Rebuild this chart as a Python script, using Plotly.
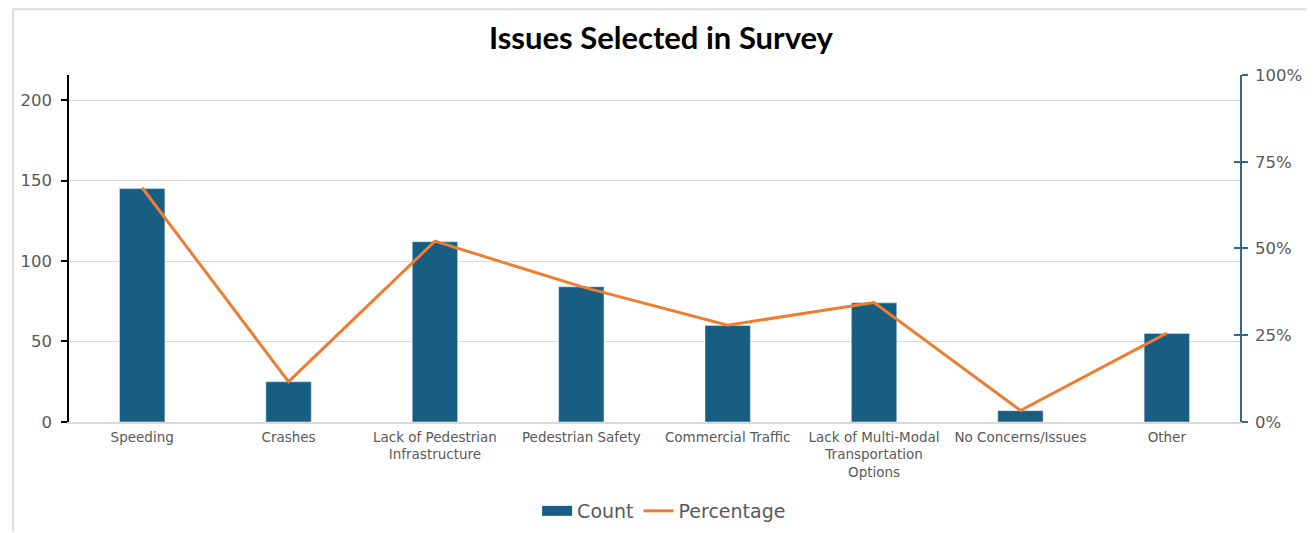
import plotly.graph_objects as go

categories = [
    "Speeding",
    "Crashes",
    "Lack of Pedestrian<br>Infrastructure",
    "Pedestrian Safety",
    "Commercial Traffic",
    "Lack of Multi-Modal<br>Transportation<br>Options",
    "No Concerns/Issues",
    "Other",
]
counts = [145, 25, 112, 84, 60, 74, 7, 55]
percentages = [0.675, 0.116, 0.521, 0.39, 0.279, 0.344, 0.033, 0.256]

left_ticks = [0, 50, 100, 150, 200]
right_ticks = [0, 0.25, 0.5, 0.75, 1.0]
right_labels = ["0%", "25%", "50%", "75%", "100%"]

FONT = "DejaVu Sans"
TITLE_FONT = "Lato"
BAR = "#175E82"
LINE = "#ED7D31"
GRAY = "#595959"
AX2 = "#2E6B8A"

W, H = 1307, 525
L, R, T, B = 57, 75, 67, 110
PW, PH = W - L - R, H - T - B

fig = go.Figure()
fig.add_trace(go.Bar(
    x=categories, y=counts, name="Count", marker_color=BAR, width=0.31,
    yaxis="y", showlegend=False,
))
# legend entry for the bars drawn as a wide rectangle swatch
fig.add_trace(go.Scatter(
    x=[None], y=[None], name="Count", mode="lines",
    line=dict(color=BAR, width=10), yaxis="y",
))
fig.add_trace(go.Scatter(
    x=categories, y=percentages, name="Percentage", mode="lines",
    line=dict(color=LINE, width=3), yaxis="y2",
))
fig.add_trace(go.Scatter(x=[categories[0]], y=[None], yaxis="y3", showlegend=False,
                         hoverinfo="skip"))

fig.update_layout(
    width=W, height=H,
    paper_bgcolor="white", plot_bgcolor="white",
    margin=dict(l=L, r=R, t=T, b=B),
    font=dict(family=FONT, color=GRAY),
    title=dict(text="<b>Issues Selected in Survey</b>", x=0.4996, xanchor="center",
               y=1 - 30 / H, yanchor="middle",
               font=dict(family=TITLE_FONT, size=31, color="black")),
    xaxis=dict(showline=True, linecolor="#D9D9D9", linewidth=1.5, ticks="",
               tickfont=dict(size=13.5, color=GRAY), tickangle=0, showgrid=False,
               ticklabelstandoff=2),
    yaxis=dict(range=[0, 215.6], tickvals=left_ticks, showline=True, linecolor="black",
               linewidth=1.5, ticks="outside", ticklen=6, tickcolor="black", tickwidth=1.5,
               tickfont=dict(size=16.5, color=GRAY), showgrid=True, gridcolor="#D9D9D9",
               gridwidth=1, zeroline=False, ticklabelstandoff=6),
    yaxis2=dict(range=[0, 1], tickvals=right_ticks, ticktext=right_labels, overlaying="y",
                side="right", showline=True, linecolor=AX2, linewidth=1.5,
                ticks="outside", ticklen=6, tickcolor=AX2, tickwidth=1.5,
                tickfont=dict(size=16.5, color=GRAY), showgrid=False, zeroline=False,
                ticklabelstandoff=4),
    yaxis3=dict(range=[0, 1], tickvals=right_ticks, overlaying="y", side="right",
                showline=False, ticks="inside", ticklen=6, tickcolor=AX2,
                tickwidth=1.5, showticklabels=False, showgrid=False, zeroline=False),
    legend=dict(orientation="h", x=0.502, xanchor="center", xref="container",
                y=1 - 503 / H, yref="container", yanchor="middle",
                font=dict(size=19, color=GRAY), itemwidth=30, tracegroupgap=0),
    bargap=0.69,
    shapes=[
        dict(type="line", xref="paper", yref="paper", x0=-(L - 1) / PW, x1=-(L - 1) / PW,
             y0=-B / PH, y1=(PH + T - 1) / PH, line=dict(color="#DCDCDC", width=2)),
        dict(type="line", xref="paper", yref="paper", x0=-L / PW, x1=(PW + R) / PW,
             y0=(PH + T - 1) / PH, y1=(PH + T - 1) / PH, line=dict(color="#DCDCDC", width=2)),
    ],
)

fig.write_html("out.html")
